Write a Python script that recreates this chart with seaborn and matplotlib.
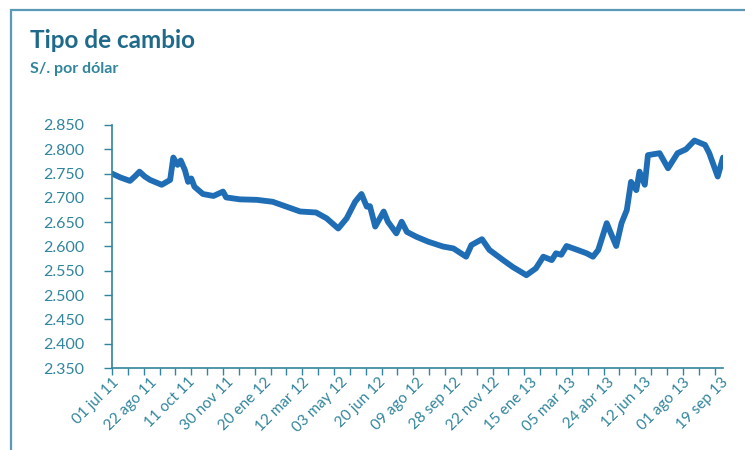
import matplotlib
matplotlib.use("Agg")
import matplotlib.pyplot as plt
from matplotlib.patches import Rectangle
from matplotlib.ticker import MultipleLocator, FixedLocator, FuncFormatter
import seaborn as sns
import pandas as pd

# Trading-day number (0 = 01 jul 11) and exchange rate (S/. per dollar)
obs = [0, 8, 17, 22, 26, 31, 36, 47, 55, 58, 62, 65, 69, 72, 75, 78, 86, 96, 105, 108, 121,
       137, 152, 165, 178, 193, 203, 214, 222, 230, 236, 241, 244, 249, 257, 261,
       269, 274, 279, 288, 299, 313, 323, 335, 340, 350, 357, 370, 379, 392, 401,
       408, 416, 420, 425, 430, 439, 449, 455, 460, 468, 472, 477, 482, 487, 491,
       496, 499, 504, 507, 518, 526, 535, 543, 551, 561, 565, 569, 573, 578]
tc = [2.750, 2.742, 2.735, 2.745, 2.754, 2.744, 2.737, 2.727, 2.737, 2.783, 2.768,
      2.777, 2.757, 2.733, 2.740, 2.723, 2.708, 2.704, 2.713, 2.701, 2.697, 2.696,
      2.692, 2.682, 2.672, 2.670, 2.658, 2.637, 2.658, 2.692, 2.708, 2.682, 2.683,
      2.641, 2.672, 2.651, 2.627, 2.651, 2.630, 2.620, 2.610, 2.600, 2.596, 2.579,
      2.603, 2.615, 2.593, 2.572, 2.558, 2.541, 2.555, 2.579, 2.572, 2.586, 2.583,
      2.601, 2.594, 2.586, 2.579, 2.593, 2.648, 2.627, 2.601, 2.648, 2.675, 2.733,
      2.716, 2.754, 2.727, 2.788, 2.792, 2.761, 2.792, 2.800, 2.818, 2.809, 2.792,
      2.768, 2.744, 2.783]

# Category-axis labels (every 36 trading days)
label_text = ["01 jul 11", "22 ago 11", "11 oct 11", "30 nov 11", "20 ene 12",
              "12 mar 12", "03 may 12", "20 jun 12", "09 ago 12", "28 sep 12",
              "22 nov 12", "15 ene 13", "05 mar 13", "24 abr 13", "12 jun 13",
              "01 ago 13", "19 sep 13"]
label_step = 36
tick_step = 15
n_obs = 578

title = "Tipo de cambio"
subtitle = "S/. por dólar"

df = pd.DataFrame({"obs": obs, "tc": tc})

sns.set_theme(style="white")
plt.rcParams["font.family"] = ["Lato", "DejaVu Sans"]

teal = "#31859C"
dark = "#1F6A8A"
line_blue = "#1F6DB5"

fig = plt.figure(figsize=(7.45, 4.5), dpi=100, facecolor="white")
ax = fig.add_axes([112 / 745, 1 - 368 / 450, (723 - 112) / 745, (368 - 125) / 450])

sns.lineplot(data=df, x="obs", y="tc", ax=ax, color=line_blue, linewidth=4.2,
             solid_joinstyle="round", solid_capstyle="round")

ax.set_xlim(0, n_obs)
ax.set_ylim(2.35, 2.85)
ax.yaxis.set_major_locator(MultipleLocator(0.05))
ax.yaxis.set_major_formatter(FuncFormatter(lambda v, p: f"{v:.3f}"))

# tick marks every 15 obs, labels every 36 obs
ax.xaxis.remove_overlapping_locs = False
ax.xaxis.set_major_locator(MultipleLocator(tick_step))
ax.xaxis.set_major_formatter(FuncFormatter(lambda v, p: ""))
label_pos = [i * label_step for i in range(len(label_text))]
ax.xaxis.set_minor_locator(FixedLocator(label_pos))
ax.set_xticklabels(label_text, minor=True)
ax.tick_params(axis="x", which="major", direction="out", length=5, width=1,
               color=teal, bottom=True)
ax.tick_params(axis="x", which="minor", length=0, labelsize=11, labelcolor=teal,
               pad=5, bottom=True)
for lab in ax.get_xticklabels(minor=True):
    lab.set_rotation(45)
    lab.set_ha("right")
    lab.set_va("top")
    lab.set_rotation_mode("anchor")

ax.tick_params(axis="y", direction="out", length=6, width=1, color=teal,
               labelsize=11.5, labelcolor=teal, pad=14, left=True)

for s in ["top", "right"]:
    ax.spines[s].set_visible(False)
for s in ["left", "bottom"]:
    ax.spines[s].set_color(teal)
    ax.spines[s].set_linewidth(1.2)
ax.set_xlabel("")
ax.set_ylabel("")
ax.grid(False)

# outer frame
fig.patches.append(Rectangle((11 / 745, -0.05), 1.0, 1 - 10 / 450 + 0.05,
                             transform=fig.transFigure, fill=False,
                             edgecolor="#5A9AB8", linewidth=1.6))

fig.text(30 / 745, 1 - 48 / 450, title, fontsize=17.5, fontweight="bold",
         color=dark, ha="left", va="baseline")
fig.text(30 / 745, 1 - 73 / 450, subtitle, fontsize=11.5, fontweight="bold",
         color=teal, ha="left", va="baseline")

fig.savefig("out.png", dpi=100, facecolor="white")
